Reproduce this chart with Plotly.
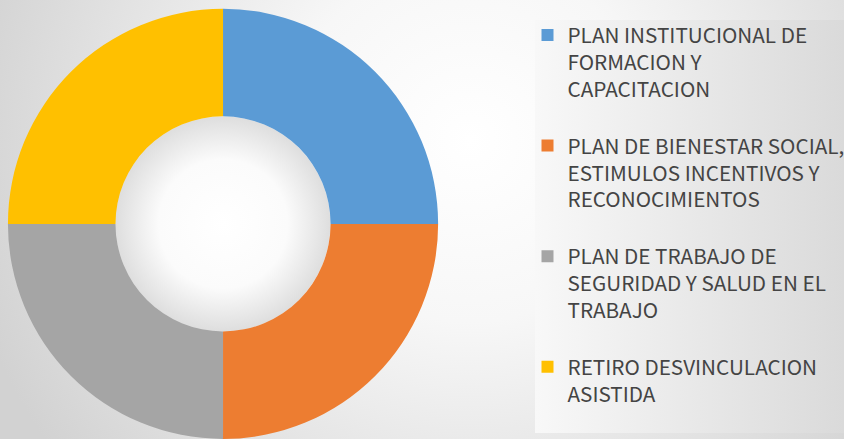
import base64
import plotly.graph_objects as go

labels = [
    "PLAN INSTITUCIONAL DE<br>FORMACION Y<br>CAPACITACION<br>",
    "PLAN DE BIENESTAR SOCIAL,<br>ESTIMULOS INCENTIVOS Y<br>RECONOCIMIENTOS<br>",
    "PLAN DE TRABAJO DE<br>SEGURIDAD Y SALUD EN EL<br>TRABAJO<br>",
    "RETIRO DESVINCULACION<br>ASISTIDA",
]
values = [1, 1, 1, 1]
colors = ["#5B9BD5", "#ED7D31", "#A5A5A5", "#FFC000"]

W, H = 844, 439
dom_x = [0.0094, 0.5191]
dom_y = [0.0, 0.98]
hole = 0.5

# derived geometry for background decoration
rad = min((dom_x[1] - dom_x[0]) * W, (dom_y[1] - dom_y[0]) * H) / 2
cx = (dom_x[0] + dom_x[1]) / 2 * W
cy = H - (dom_y[0] + dom_y[1]) / 2 * H
hr = rad * hole

svg = f'''<svg xmlns="http://www.w3.org/2000/svg" width="{W}" height="{H}" viewBox="0 0 {W} {H}" preserveAspectRatio="none">
<defs>
<radialGradient id="bg" gradientUnits="userSpaceOnUse" cx="470" cy="140" r="520">
<stop offset="0" stop-color="#ffffff"/>
<stop offset="0.35" stop-color="#f7f7f7"/>
<stop offset="1" stop-color="#d2d2d2"/>
</radialGradient>
<linearGradient id="lg" x1="0" y1="0" x2="1" y2="0">
<stop offset="0" stop-color="#f8f8f8"/>
<stop offset="1" stop-color="#dadada"/>
</linearGradient>
<radialGradient id="hg">
<stop offset="0" stop-color="#ffffff"/>
<stop offset="0.6" stop-color="#fbfbfb"/>
<stop offset="1" stop-color="#dedede"/>
</radialGradient>
</defs>
<rect x="0" y="0" width="{W}" height="{H}" fill="url(#bg)"/>
<rect x="535" y="20" width="{W-535}" height="413" fill="url(#lg)"/>
<circle cx="{cx:.1f}" cy="{cy:.1f}" r="{hr:.1f}" fill="url(#hg)"/>
</svg>'''
src = "data:image/svg+xml;base64," + base64.b64encode(svg.encode()).decode()

fig = go.Figure(
    go.Pie(
        labels=labels,
        values=values,
        hole=hole,
        sort=False,
        direction="clockwise",
        rotation=0,
        textinfo="none",
        marker=dict(colors=colors, line=dict(width=0)),
        domain=dict(x=dom_x, y=dom_y),
    )
)

fig.update_layout(
    width=W,
    height=H,
    autosize=False,
    margin=dict(l=0, r=0, t=0, b=0, pad=0, autoexpand=False),
    paper_bgcolor="#eeeeee",
    plot_bgcolor="rgba(0,0,0,0)",
    images=[dict(source=src, xref="paper", yref="paper", x=0, y=1,
                 sizex=1, sizey=1, xanchor="left", yanchor="top",
                 sizing="stretch", layer="below")],
    legend=dict(
        x=0.625, y=0.966, xanchor="left", yanchor="top",
        valign="top",
        font=dict(family="Noto Sans CJK SC", size=20.7, color="#444444"),
        bgcolor="rgba(0,0,0,0)",
    ),
    showlegend=True,
)

post = ("document.body.style.margin='0';"
        "document.body.style.padding='0';"
        "document.documentElement.style.overflow='hidden';"
        "document.body.style.overflow='hidden';")

fig.write_html("out.html", config={"responsive": False, "displayModeBar": False},
               post_script=post)
